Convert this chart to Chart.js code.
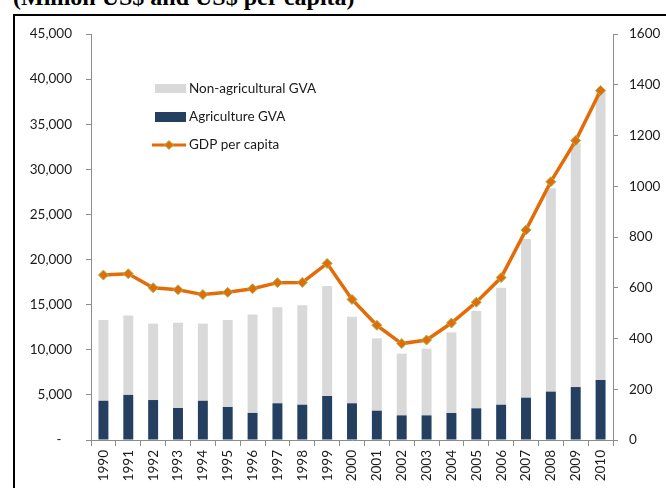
<!DOCTYPE html>
<html>
<head>
<meta charset="utf-8">
<script src="https://cdn.jsdelivr.net/npm/chart.js@4/dist/chart.umd.min.js"></script>
<style>
  html, body { margin: 0; padding: 0; background: #fff; }
  #wrap { position: relative; width: 666px; height: 488px; overflow: hidden; }
  #frame { position: absolute; left: 13px; top: 14px; width: 700px; height: 500px;
           border-left: 2px solid #000; border-top: 2px solid #000; }
  #title { position: absolute; left: 13px; top: -15px; font: bold 24px "Liberation Serif", serif;
           line-height: 24px; white-space: nowrap; color: #000; }
  canvas { position: absolute; left: 0; top: 0; }
</style>
</head>
<body>
<div id="wrap">
  <div id="title">(Million US$ and US$ per capita)</div>
  <div id="frame"></div>
  <canvas id="gvaChart" width="666" height="488"></canvas>
</div>
<script>
// ---- DATA ----
const years = ['1990','1991','1992','1993','1994','1995','1996','1997','1998','1999','2000',
               '2001','2002','2003','2004','2005','2006','2007','2008','2009','2010'];
const agricultureGVA = [4350, 5000, 4430, 3550, 4350, 3660, 3000, 4070, 3910, 4880, 4070,
                        3250, 2730, 2730, 2990, 3510, 3910, 4690, 5360, 5870, 6650];
const nonAgriculturalGVA = [8950, 8800, 8470, 9450, 8550, 9640, 10900, 10630, 11020, 12190, 9580,
                            8020, 6840, 7390, 8940, 10790, 12970, 17590, 22540, 27030, 32050];
const gdpPerCapita = [650, 655, 600, 592, 573, 582, 596, 620, 621, 696, 554,
                      452, 380, 394, 461, 543, 640, 828, 1018, 1180, 1377];
const legendLabels = ['Non-agricultural GVA', 'Agriculture GVA', 'GDP per capita'];

const GRAY = '#d9d9d9', NAVY = '#243f60', ORANGE = '#e36c09', GREEN = '#9bbb59';
const AXIS = '#8c8c8c';
const tickFont = { family: 'Lato', size: 13.5 };

// legend drawn inside the plot, top-left
const boxLegend = {
  id: 'boxLegend',
  afterDraw(chart) {
    const c = chart.ctx;
    c.save();
    c.fillStyle = GRAY;
    c.fillRect(155, 84, 31, 9);
    c.fillStyle = NAVY;
    c.fillRect(155, 112, 31, 10);
    c.strokeStyle = ORANGE;
    c.lineWidth = 3;
    c.beginPath(); c.moveTo(152, 145); c.lineTo(186, 145); c.stroke();
    c.fillStyle = ORANGE; c.strokeStyle = GREEN; c.lineWidth = 1;
    c.beginPath();
    c.moveTo(169, 140.5); c.lineTo(173.5, 145); c.lineTo(169, 149.5); c.lineTo(164.5, 145);
    c.closePath(); c.fill(); c.stroke();
    c.fillStyle = '#1a1a1a';
    c.font = '13.5px Lato';
    c.textBaseline = 'middle';
    c.fillText(legendLabels[0], 189, 89);
    c.fillText(legendLabels[1], 189, 117);
    c.fillText(legendLabels[2], 189, 145);
    c.restore();
  }
};

// ---- CHART ----
const ctx = document.getElementById('gvaChart').getContext('2d');
const chart = new Chart(ctx, {
  type: 'bar',
  data: {
    labels: years,
    datasets: [
      {
        type: 'line',
        label: legendLabels[2],
        data: gdpPerCapita,
        yAxisID: 'y1',
        borderColor: ORANGE,
        borderWidth: 3.5,
        tension: 0,
        pointStyle: 'rectRot',
        pointRadius: 5,
        pointBackgroundColor: ORANGE,
        pointBorderColor: GREEN,
        pointBorderWidth: 1,
        order: 0
      },
      {
        label: legendLabels[1],
        data: agricultureGVA,
        backgroundColor: NAVY,
        yAxisID: 'y',
        order: 1
      },
      {
        label: legendLabels[0],
        data: nonAgriculturalGVA,
        backgroundColor: GRAY,
        yAxisID: 'y',
        order: 1
      }
    ]
  },
  options: {
    responsive: false,
    animation: false,
    devicePixelRatio: 1,
    layout: { padding: { top: 34, left: 0, right: 0, bottom: 0 } },
    datasets: { bar: { barPercentage: 0.4, categoryPercentage: 1 } },
    plugins: { legend: { display: false }, tooltip: { enabled: false } },
    scales: {
      x: {
        stacked: true,
        afterFit: s => { s.height = 48; },
        grid: { drawOnChartArea: false, tickLength: 6, color: AXIS, offset: true },
        border: { color: AXIS },
        ticks: { color: '#1a1a1a', font: tickFont, minRotation: 90, maxRotation: 90, padding: 4, autoSkip: false }
      },
      y: {
        stacked: true,
        position: 'left',
        min: 0, max: 45000,
        afterFit: s => { s.width = 91; },
        grid: { drawOnChartArea: false, tickLength: 5, color: AXIS },
        border: { color: AXIS },
        ticks: {
          stepSize: 5000, color: '#1a1a1a', font: tickFont, padding: 14,
          callback: v => v === 0 ? '-   ' : v.toLocaleString('en-US')
        }
      },
      y1: {
        position: 'right',
        min: 0, max: 1600,
        afterFit: s => { s.width = 53; },
        grid: { drawOnChartArea: false, tickLength: 5, color: AXIS },
        border: { color: AXIS },
        ticks: { stepSize: 200, color: '#1a1a1a', font: tickFont, padding: 11, callback: v => String(v) }
      }
    }
  },
  plugins: [boxLegend]
});
</script>
</body>
</html>
